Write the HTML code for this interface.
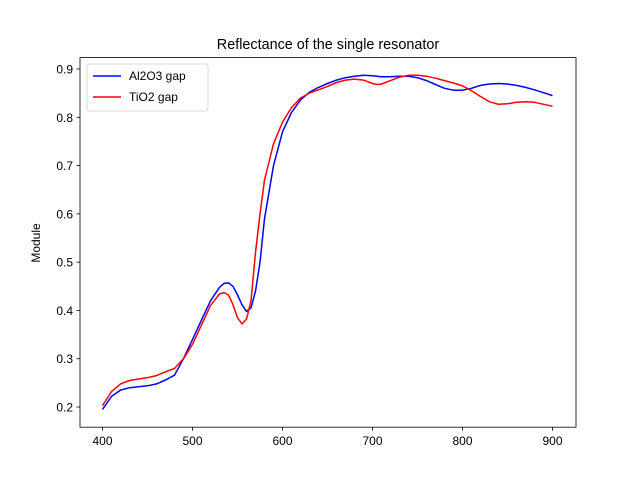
<!DOCTYPE html>
<html><head><meta charset="utf-8"><style>
body{margin:0;background:#fff}
svg{display:block;font-family:"Liberation Sans","DejaVu Sans",sans-serif}
</style></head><body>
<svg id="chart" width="640" height="480">
<rect width="640" height="480" fill="#fff"/>
<text x="328" y="49" font-size="14.4" text-anchor="middle">Reflectance of the single resonator</text>
<text transform="translate(40,243) rotate(-90)" font-size="12" text-anchor="middle">Module</text>
<g id="ticks"></g>
<g id="series"></g>
<rect x="80" y="57.6" width="496" height="369.6" fill="none" stroke="#000" stroke-width="0.8"/>
<g>
<rect x="87" y="64" width="121" height="47" rx="3" fill="#fff" fill-opacity="0.8" stroke="#ccc" stroke-width="0.8"/>
<line x1="93" y1="76" x2="121" y2="76" stroke="#0000ff" stroke-width="1.5"/>
<text x="129" y="80" font-size="12">Al2O3 gap</text>
<line x1="93" y1="97" x2="121" y2="97" stroke="#ff0000" stroke-width="1.5"/>
<text x="129" y="101" font-size="12">TiO2 gap</text>
</g>
</svg>
<script>
const xTicks=[400,500,600,700,800,900];
const yTicks=[0.2,0.3,0.4,0.5,0.6,0.7,0.8,0.9];
const wl=[400,410,420,430,440,450,460,470,480,490,500,510,520,530,535,540,545,550,555,560,565,570,575,580,590,600,610,620,630,640,650,660,670,680,690,700,705,710,720,730,740,750,760,770,780,790,800,810,820,830,840,850,860,870,880,890,900];
const al2o3=[0.195,0.222,0.235,0.240,0.242,0.244,0.248,0.256,0.266,0.300,0.340,0.380,0.420,0.448,0.456,0.457,0.450,0.432,0.412,0.398,0.405,0.440,0.500,0.590,0.700,0.770,0.810,0.836,0.852,0.862,0.870,0.877,0.882,0.885,0.887,0.886,0.885,0.884,0.884,0.885,0.885,0.882,0.876,0.868,0.860,0.856,0.856,0.860,0.866,0.869,0.870,0.869,0.866,0.862,0.857,0.851,0.845];
const tio2=[0.203,0.232,0.248,0.255,0.258,0.261,0.265,0.273,0.280,0.300,0.330,0.370,0.410,0.434,0.437,0.432,0.412,0.385,0.372,0.382,0.420,0.520,0.600,0.670,0.745,0.790,0.820,0.840,0.850,0.857,0.864,0.872,0.877,0.879,0.877,0.870,0.868,0.869,0.876,0.883,0.887,0.887,0.885,0.881,0.876,0.871,0.865,0.855,0.843,0.832,0.827,0.828,0.831,0.832,0.831,0.827,0.823];
const NS='http://www.w3.org/2000/svg';
const xs=v=>80+(v-375)*0.9;
const ys=v=>69-(v-0.9)*482.9;
const tk=document.getElementById('ticks');
function mk(t,a,p){const e=document.createElementNS(NS,t);for(const k in a)e.setAttribute(k,a[k]);p.appendChild(e);return e;}
xTicks.forEach(v=>{
 const l=mk('line',{x1:xs(v),x2:xs(v),y1:427.2,y2:430.7,stroke:'#000','stroke-width':0.8},tk);
 
 
 const t=mk('text',{x:xs(v),y:445,'font-size':12,'text-anchor':'middle'},tk);t.textContent=v;
 
 
});
yTicks.forEach(v=>{
 const l=mk('line',{x1:76.5,x2:80,y1:ys(v),y2:ys(v),stroke:'#000','stroke-width':0.8},tk);
 
 
 const t=mk('text',{x:73,y:ys(v)+4.5,'font-size':12,'text-anchor':'end'},tk);t.textContent=v.toFixed(1);
 
 
});
const sg=document.getElementById('series');
function line(vals,color,name){
 const d=wl.map((w,i)=>(i?'L':'M')+xs(w).toFixed(1)+','+ys(vals[i]).toFixed(1)).join('');
 const p=mk('path',{d:d,fill:'none',stroke:color,'stroke-width':1.5,'stroke-linejoin':'round'},sg);
 
 
}
line(al2o3,'#0000ff','al2o3-line');
line(tio2,'#ff0000','tio2-line');
</script>
</body></html>
